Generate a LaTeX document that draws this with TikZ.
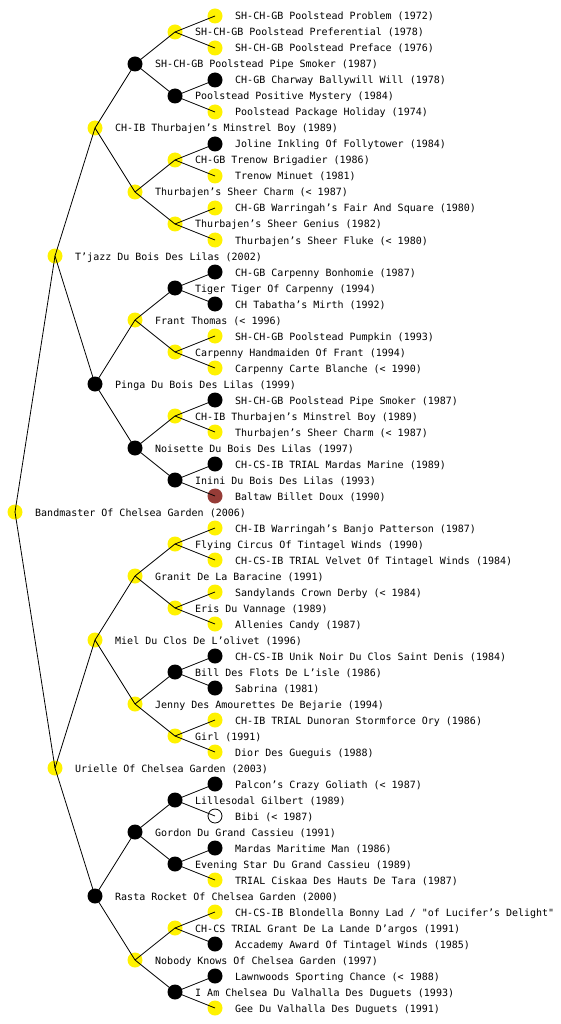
\documentclass[tikz,border=0pt]{standalone}
\usepackage{fontspec}
\newfontfamily\pedfont{DejaVu Sans Mono}
\definecolor{brownred}{RGB}{150,60,55}
\newcommand\pednode[5]{%
  \pgfmathsetmacro\px{15+40*#2}%
  \pgfmathsetmacro\py{(2*#3+1)*(512/(2^#2))}%
  \node[#4] (#1) at (\px,\py) {};
  \node[lbl] (#1t) at (\px+20,\py+4) {#5};}
\begin{document}
\begin{tikzpicture}[x=1pt,y=-1pt,
  nd/.style={circle,inner sep=0pt,minimum size=15pt},
  yn/.style={nd,fill=yellow},
  bn/.style={nd,fill=black},
  rn/.style={nd,fill=brownred},
  wn/.style={nd,draw=black,fill=white,line width=0.8pt,minimum size=14pt},
  lbl/.style={anchor=base west,inner sep=0pt,font=\pedfont\fontsize{10}{12}\selectfont},
  edge/.style={draw=black,line width=0.8pt}]
\fill[white] (0,0) rectangle (560,1024);
\useasboundingbox (0,0) rectangle (560,1024);
% generation 0
\pednode{r}{0}{0}{yn}{Bandmaster Of Chelsea Garden (2006)}
% generation 1
\pednode{a0}{1}{0}{yn}{T’jazz Du Bois Des Lilas (2002)}
\pednode{a1}{1}{1}{yn}{Urielle Of Chelsea Garden (2003)}
% generation 2
\pednode{b0}{2}{0}{yn}{CH-IB Thurbajen’s Minstrel Boy (1989)}
\pednode{b1}{2}{1}{bn}{Pinga Du Bois Des Lilas (1999)}
\pednode{b2}{2}{2}{yn}{Miel Du Clos De L’olivet (1996)}
\pednode{b3}{2}{3}{bn}{Rasta Rocket Of Chelsea Garden (2000)}
% generation 3
\pednode{c0}{3}{0}{bn}{SH-CH-GB Poolstead Pipe Smoker (1987)}
\pednode{c1}{3}{1}{yn}{Thurbajen’s Sheer Charm (< 1987)}
\pednode{c2}{3}{2}{yn}{Frant Thomas (< 1996)}
\pednode{c3}{3}{3}{bn}{Noisette Du Bois Des Lilas (1997)}
\pednode{c4}{3}{4}{yn}{Granit De La Baracine (1991)}
\pednode{c5}{3}{5}{yn}{Jenny Des Amourettes De Bejarie (1994)}
\pednode{c6}{3}{6}{bn}{Gordon Du Grand Cassieu (1991)}
\pednode{c7}{3}{7}{yn}{Nobody Knows Of Chelsea Garden (1997)}
% generation 4
\pednode{d0}{4}{0}{yn}{SH-CH-GB Poolstead Preferential (1978)}
\pednode{d1}{4}{1}{bn}{Poolstead Positive Mystery (1984)}
\pednode{d2}{4}{2}{yn}{CH-GB Trenow Brigadier (1986)}
\pednode{d3}{4}{3}{yn}{Thurbajen’s Sheer Genius (1982)}
\pednode{d4}{4}{4}{bn}{Tiger Tiger Of Carpenny (1994)}
\pednode{d5}{4}{5}{yn}{Carpenny Handmaiden Of Frant (1994)}
\pednode{d6}{4}{6}{yn}{CH-IB Thurbajen’s Minstrel Boy (1989)}
\pednode{d7}{4}{7}{bn}{Inini Du Bois Des Lilas (1993)}
\pednode{d8}{4}{8}{yn}{Flying Circus Of Tintagel Winds (1990)}
\pednode{d9}{4}{9}{yn}{Eris Du Vannage (1989)}
\pednode{d10}{4}{10}{bn}{Bill Des Flots De L’isle (1986)}
\pednode{d11}{4}{11}{yn}{Girl (1991)}
\pednode{d12}{4}{12}{bn}{Lillesodal Gilbert (1989)}
\pednode{d13}{4}{13}{bn}{Evening Star Du Grand Cassieu (1989)}
\pednode{d14}{4}{14}{yn}{CH-CS TRIAL Grant De La Lande D’argos (1991)}
\pednode{d15}{4}{15}{bn}{I Am Chelsea Du Valhalla Des Duguets (1993)}
% generation 5
\pednode{e0}{5}{0}{yn}{SH-CH-GB Poolstead Problem (1972)}
\pednode{e1}{5}{1}{yn}{SH-CH-GB Poolstead Preface (1976)}
\pednode{e2}{5}{2}{bn}{CH-GB Charway Ballywill Will (1978)}
\pednode{e3}{5}{3}{yn}{Poolstead Package Holiday (1974)}
\pednode{e4}{5}{4}{bn}{Joline Inkling Of Follytower (1984)}
\pednode{e5}{5}{5}{yn}{Trenow Minuet (1981)}
\pednode{e6}{5}{6}{yn}{CH-GB Warringah’s Fair And Square (1980)}
\pednode{e7}{5}{7}{yn}{Thurbajen’s Sheer Fluke (< 1980)}
\pednode{e8}{5}{8}{bn}{CH-GB Carpenny Bonhomie (1987)}
\pednode{e9}{5}{9}{bn}{CH Tabatha’s Mirth (1992)}
\pednode{e10}{5}{10}{yn}{SH-CH-GB Poolstead Pumpkin (1993)}
\pednode{e11}{5}{11}{yn}{Carpenny Carte Blanche (< 1990)}
\pednode{e12}{5}{12}{bn}{SH-CH-GB Poolstead Pipe Smoker (1987)}
\pednode{e13}{5}{13}{yn}{Thurbajen’s Sheer Charm (< 1987)}
\pednode{e14}{5}{14}{bn}{CH-CS-IB TRIAL Mardas Marine (1989)}
\pednode{e15}{5}{15}{rn}{Baltaw Billet Doux (1990)}
\pednode{e16}{5}{16}{yn}{CH-IB Warringah’s Banjo Patterson (1987)}
\pednode{e17}{5}{17}{yn}{CH-CS-IB TRIAL Velvet Of Tintagel Winds (1984)}
\pednode{e18}{5}{18}{yn}{Sandylands Crown Derby (< 1984)}
\pednode{e19}{5}{19}{yn}{Allenies Candy (1987)}
\pednode{e20}{5}{20}{bn}{CH-CS-IB Unik Noir Du Clos Saint Denis (1984)}
\pednode{e21}{5}{21}{bn}{Sabrina (1981)}
\pednode{e22}{5}{22}{yn}{CH-IB TRIAL Dunoran Stormforce Ory (1986)}
\pednode{e23}{5}{23}{yn}{Dior Des Gueguis (1988)}
\pednode{e24}{5}{24}{bn}{Palcon’s Crazy Goliath (< 1987)}
\pednode{e25}{5}{25}{wn}{Bibi (< 1987)}
\pednode{e26}{5}{26}{bn}{Mardas Maritime Man (1986)}
\pednode{e27}{5}{27}{yn}{TRIAL Ciskaa Des Hauts De Tara (1987)}
\pednode{e28}{5}{28}{yn}{CH-CS-IB Blondella Bonny Lad / "of Lucifer’s Delight"}
\pednode{e29}{5}{29}{bn}{Accademy Award Of Tintagel Winds (1985)}
\pednode{e30}{5}{30}{bn}{Lawnwoods Sporting Chance (< 1988)}
\pednode{e31}{5}{31}{yn}{Gee Du Valhalla Des Duguets (1991)}
% connectors
\foreach \i in {0,1} {\draw[edge] (r.center) -- (a\i.center);}
\foreach \i in {0,...,3} {\pgfmathtruncatemacro\p{\i/2}\draw[edge] (a\p.center) -- (b\i.center);}
\foreach \i in {0,...,7} {\pgfmathtruncatemacro\p{\i/2}\draw[edge] (b\p.center) -- (c\i.center);}
\foreach \i in {0,...,15} {\pgfmathtruncatemacro\p{\i/2}\draw[edge] (c\p.center) -- (d\i.center);}
\foreach \i in {0,...,31} {\pgfmathtruncatemacro\p{\i/2}\draw[edge] (d\p.center) -- (e\i.center);}
\end{tikzpicture}
\end{document}
